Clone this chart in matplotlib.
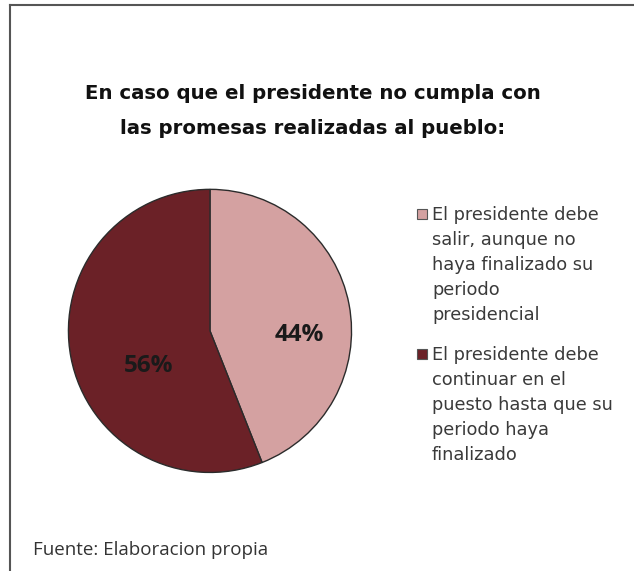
import matplotlib.pyplot as plt
from matplotlib.lines import Line2D
from matplotlib.patches import Rectangle

# Datos
categorias = [
    "El presidente debe\nsalir, aunque no\nhaya finalizado su\nperiodo\npresidencial",
    "El presidente debe\ncontinuar en el\npuesto hasta que su\nperiodo haya\nfinalizado",
]
porcentajes = [44, 56]
colores = ["#D4A1A1", "#6B2127"]
titulo = "En caso que el presidente no cumpla con\nlas promesas realizadas al pueblo:"
fuente = "Fuente: Elaboracion propia"

W, H = 634, 571
fig = plt.figure(figsize=(W / 100, H / 100), dpi=100)
fig.patch.set_facecolor("white")

ax = fig.add_axes([0.1057, 0.170, 0.451, 0.501])
wedges, texts, autotexts = ax.pie(
    porcentajes, colors=colores, startangle=90, counterclock=False,
    autopct="%d%%", pctdistance=0.6,
    wedgeprops=dict(edgecolor="#2b2b2b", linewidth=1.0),
    textprops=dict(fontsize=17.5, fontweight="bold", color="#1a1a1a",
                   family="Open Sans"),
)
ax.set_xlim(-1.01, 1.01)
ax.set_ylim(-1.01, 1.01)
ax.set_aspect("equal")

# posiciones de etiquetas como en el original
autotexts[0].set_position((0.63, -0.03))
autotexts[1].set_position((-0.43, -0.25))

fig.text(0.493, 1 - 111 / H, titulo, ha="center", va="center", fontsize=14.2,
         fontweight="bold", family="DejaVu Sans", linespacing=2.1,
         color="#111111")

# leyenda dibujada a mano (cuadro arriba, texto multilinea)
tops = [206, 346]
for w, lab, top in zip(wedges, categorias, tops):
    fig.add_artist(Rectangle((417 / W, 1 - (top + 13) / H), 10 / W, 10 / H,
                             transform=fig.transFigure,
                             facecolor=w.get_facecolor(),
                             edgecolor="#555555", lw=0.8))
    fig.text(432 / W, 1 - top / H, lab, ha="left", va="top", fontsize=12.8,
             color="#3a3a3a", family="DejaVu Sans", linespacing=1.5)

fig.text(33 / W, 1 - 550 / H, fuente, ha="left", va="center", fontsize=13.5,
         color="#333333", family="Open Sans")

# marco del grafico
fig.add_artist(Line2D([10 / W, 1], [1 - 5 / H, 1 - 5 / H],
                      transform=fig.transFigure, color="#555555", lw=1.5))
fig.add_artist(Line2D([10 / W, 10 / W], [0, 1 - 5 / H],
                      transform=fig.transFigure, color="#555555", lw=1.5))

fig.savefig("out.png", dpi=100)
